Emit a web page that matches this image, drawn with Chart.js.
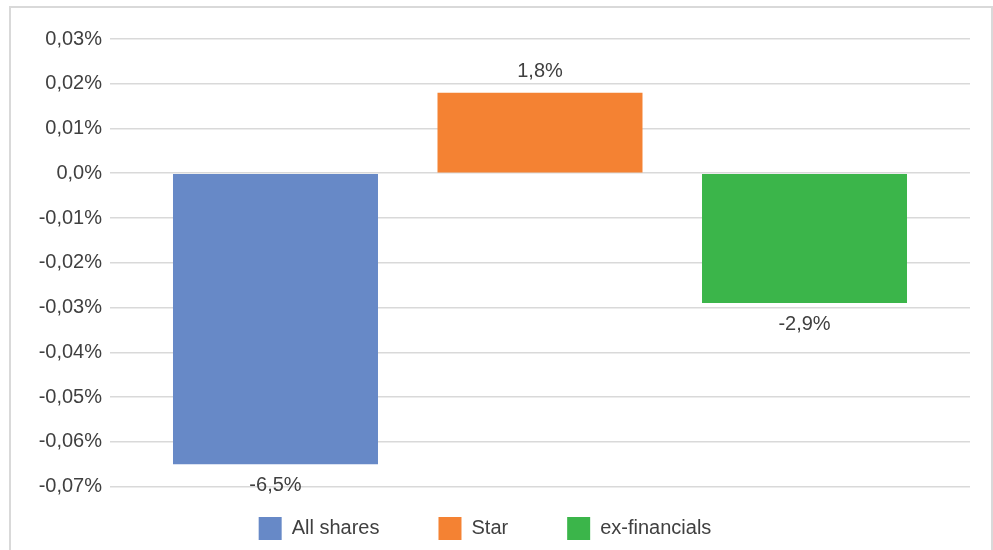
<!DOCTYPE html>
<html lang="en">
<head>
  <meta charset="UTF-8">
  <title>All shares / Star / ex-financials</title>
  <script src="https://cdn.jsdelivr.net/npm/chart.js"></script>
  <style>
    body {
      margin: 0;
      background: #fff;
      overflow: hidden;
    }

    .frame {
      position: absolute;
      left: 9px;
      top: 6px;
      width: 980px;
      height: 600px;
      border: 2px solid #d9d9d9;
    }

    .wrap {
      position: absolute;
      left: 0;
      top: 0;
      width: 993px;
      height: 550px;
    }
  </style>
</head>
<body>

  <div class="frame"></div>
  <div class="wrap">
    <canvas id="chart"></canvas>
  </div>

<script>
const seriesNames = ['All shares', 'Star', 'ex-financials'];
const seriesValues = [-0.065, 0.018, -0.029];
const valueLabels = ['-6,5%', '1,8%', '-2,9%'];
const seriesColors = ['#6789c7', '#f48233', '#3bb54a'];
const yTickLabels = ['-0,07%', '-0,06%', '-0,05%', '-0,04%', '-0,03%', '-0,02%',
                     '-0,01%', '0,0%', '0,01%', '0,02%', '0,03%'];

const textColor = '#404040';
const fontFamily = "'Liberation Sans', Arial, sans-serif";

// draws the value text above / below each bar
const valueLabelPlugin = {
  id: 'valueLabels',
  afterDatasetsDraw(chart) {
    const ctx = chart.ctx;
    ctx.save();
    ctx.font = '20px ' + fontFamily;
    ctx.fillStyle = textColor;
    ctx.textAlign = 'center';
    ctx.textBaseline = 'middle';
    chart.data.datasets.forEach((ds, i) => {
      const bar = chart.getDatasetMeta(i).data[0];
      const off = ds.data[0] >= 0 ? -21 : 21;
      ctx.fillText(valueLabels[i], bar.x, bar.y + off);
    });
    ctx.restore();
  }
};

const ctx = document.getElementById('chart').getContext('2d');

new Chart(ctx, {
  type: 'bar',
  data: {
    labels: [''],
    datasets: seriesNames.map((name, i) => ({
      label: name,
      data: [seriesValues[i]],
      backgroundColor: seriesColors[i],
      categoryPercentage: 0.9227,
      barPercentage: 0.775
    }))
  },
  options: {
    responsive: true,
    maintainAspectRatio: false,
    animation: false,
    layout: {
      padding: { top: 39, right: 23, bottom: 0, left: 0 }
    },
    scales: {
      x: {
        display: false
      },
      y: {
        min: -0.07,
        max: 0.03,
        border: { display: false },
        grid: {
          color: '#d9d9d9',
          lineWidth: 1.5,
          drawTicks: false
        },
        ticks: {
          stepSize: 0.01,
          padding: 8,
          color: textColor,
          font: { family: fontFamily, size: 20 },
          callback: (value, index) => yTickLabels[index]
        },
        afterFit(scale) {
          scale.width = 110;
        }
      }
    },
    plugins: {
      tooltip: { enabled: false },
      legend: {
        position: 'bottom',
        title: {
          display: true,
          text: '',
          font: { size: 1 },
          padding: { top: 0, bottom: -29.7 }
        },
        labels: {
          boxWidth: 23,
          boxHeight: 23,
          padding: 59,
          color: textColor,
          font: { family: fontFamily, size: 20 }
        }
      }
    }
  },
  plugins: [valueLabelPlugin]
});
</script>

</body>
</html>
